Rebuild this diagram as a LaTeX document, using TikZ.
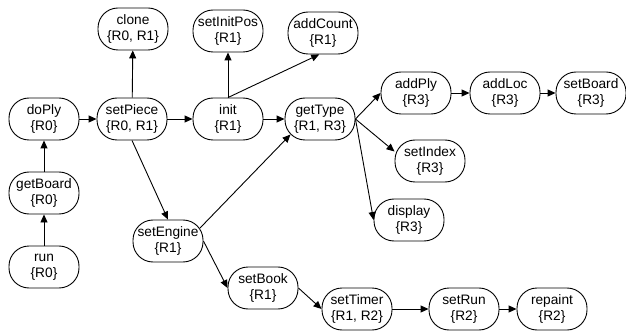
\documentclass[tikz,border=0pt]{standalone}
\usepackage{fontspec}
\setmainfont{Liberation Sans}
\usepackage{tikz}
\usetikzlibrary{arrows.meta}

\tikzset{
	method/.style={draw, rounded corners=20pt, line width=0.9pt, inner xsep=2pt, inner ysep=2pt,
		minimum width=70pt, minimum height=42pt, align=center,
		font=\fontsize{13.7}{16}\selectfont},
	call/.style={line width=0.9pt, -{Triangle[length=8pt, width=7pt]}}
}

\begin{document}

\begin{tikzpicture}[x=1pt, y=-1pt]

\useasboundingbox (0,0) rectangle (626,331);

% ------------------------------------------------------

\node[method] (doPly) at (44,119) {doPly\\\{R0\}};

\node[method] (getBoard) at (44,193) {getBoard\\\{R0\}};

\node[method] (run) at (44,267) {run\\\{R0\}};

\node[method] (setPiece) at (132,119) {setPiece\\\{R0, R1\}};

\node[method] (clone) at (133,29) {clone\\\{R0, R1\}};

\node[method] (init) at (228,119) {init\\\{R1\}};

\node[method] (setInitPos) at (228,31) {setInitPos\\\{R1\}};

\node[method] (addCount) at (323,33) {addCount\\\{R1\}};

\node[method] (getType) at (320,119) {getType\\\{R1, R3\}};

\node[method] (addPly) at (416,93) {addPly\\\{R3\}};

\node[method] (addLoc) at (505,93) {addLoc\\\{R3\}};

\node[method] (setBoard) at (591,93) {setBoard\\\{R3\}};

\node[method] (setIndex) at (430,161) {setIndex\\\{R3\}};

\node[method] (display) at (409,220) {display\\\{R3\}};

\node[method] (setEngine) at (168,241) {setEngine\\\{R1\}};

\node[method] (setBook) at (263,288) {setBook\\\{R1\}};

\node[method] (setTimer) at (357,309) {setTimer\\\{R1, R2\}};

\node[method] (setRun) at (464,309) {setRun\\\{R2\}};

\node[method] (repaint) at (552,309) {repaint\\\{R2\}};

% ------------------------------------------------------

\draw[call] (run) -- (getBoard);

\draw[call] (getBoard) -- (doPly);

\draw[call] (doPly) -- (setPiece);

\draw[call] (setPiece) -- (clone);

\draw[call] (setPiece) -- (init);

\draw[call] (setPiece.south) -- (setEngine.north);

\draw[call] (init) -- (setInitPos);

\draw[call] (init.north) -- (addCount.260);

\draw[call] (init) -- (getType);

\draw[call] ([xshift=-3.5pt]setEngine.20) -- ([shift={(5.9pt,5.9pt)}]getType.south west);

\draw[call] (setEngine.east) -- (setBook.west);

\draw[call] (setBook.east) -- (setTimer.west);

\draw[call] (setTimer) -- (setRun);

\draw[call] (setRun) -- (repaint);

\draw[call] (getType.east) -- (addPly.west);

\draw[call] (getType.east) -- (setIndex.165);

\draw[call] (getType.east) -- (display.west);

\draw[call] (addPly) -- (addLoc);

\draw[call] (addLoc) -- (setBoard);

\end{tikzpicture}

\end{document}
